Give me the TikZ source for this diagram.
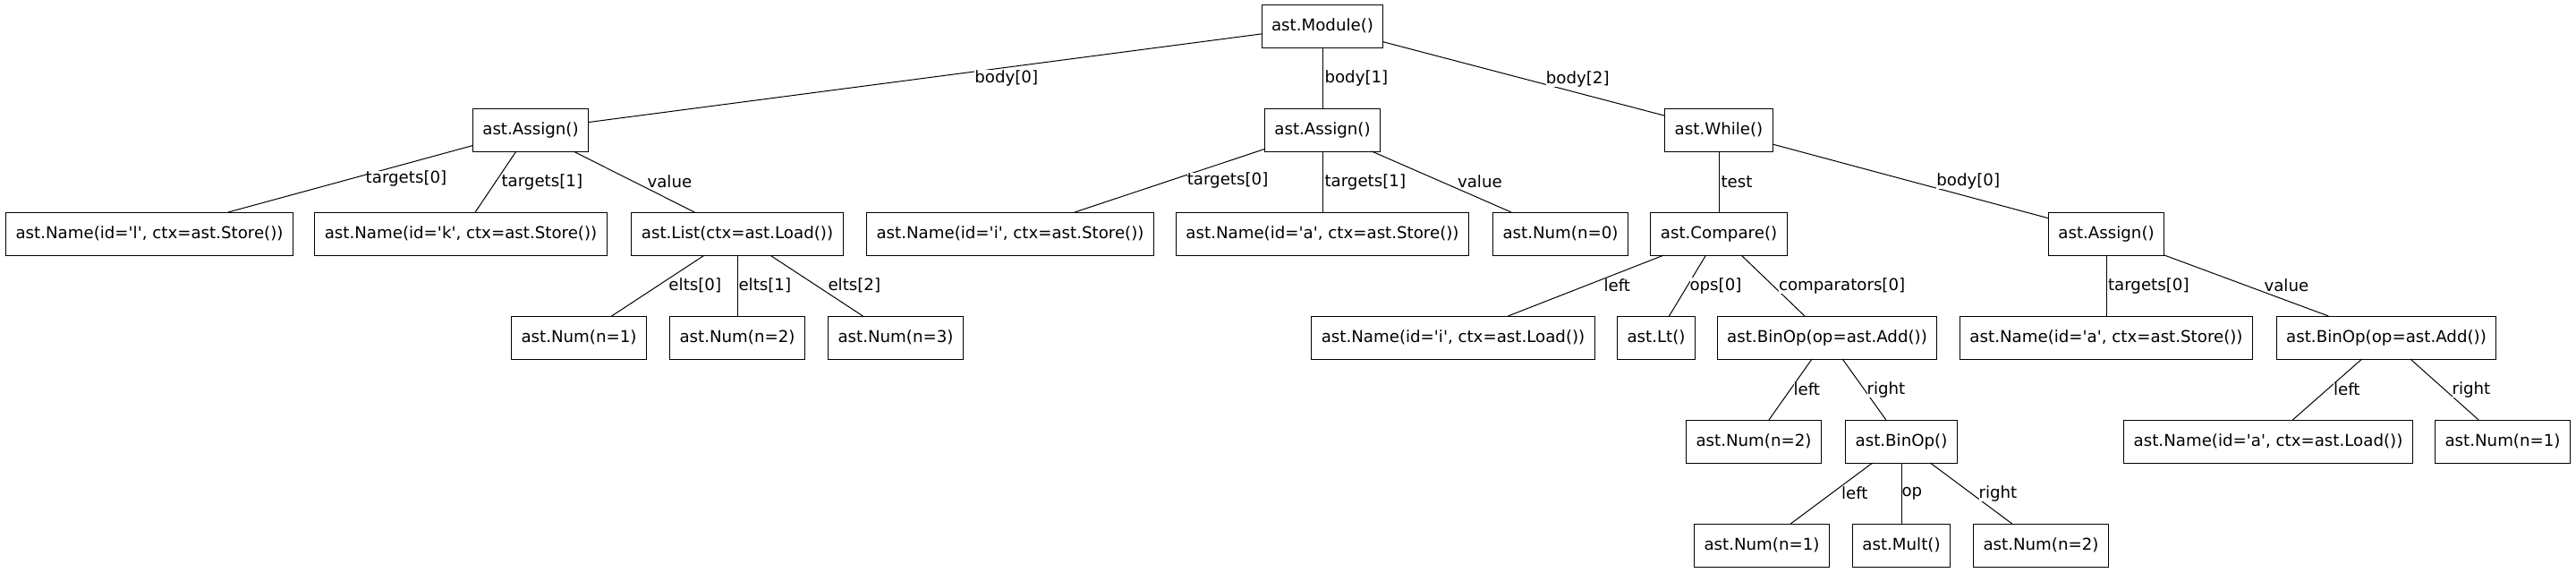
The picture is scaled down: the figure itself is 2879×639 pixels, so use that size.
\documentclass[tikz,border=0pt]{standalone}
\usepackage{fontspec}
\usepackage{tikz}
\usepackage{tkz-graph}
\newfontfamily\astfont{DejaVu Sans}

\begin{document}
\begin{tikzpicture}[x=0.5pt,y=-0.5pt]
    \useasboundingbox (0,0) rectangle (2879,639);
    \GraphInit[vstyle=Normal]
    \tikzset{VertexStyle/.style = {draw, rectangle, line width=0.5pt, minimum height=24pt,
        inner xsep=5.5pt, inner ysep=0pt, font=\astfont\fontsize{9.1}{11}\selectfont}}
    \tikzset{EdgeStyle/.style = {draw, line width=0.5pt}}
    \tikzset{LabelStyle/.style = {anchor=west, inner sep=0pt, font=\astfont\fontsize{9.1}{11}\selectfont}}

    \Vertex[x=1478,y=29,L={ast.Module()}]{M}

    \Vertex[x=593,y=145,L={ast.Assign()}]{A0}
    \Vertex[x=1478,y=145,L={ast.Assign()}]{A1}
    \Vertex[x=1921,y=145,L={ast.While()}]{W}

    \Vertex[x=167,y=261,L={ast.Name(id='l', ctx=ast.Store())}]{NL}
    \Vertex[x=515,y=261,L={ast.Name(id='k', ctx=ast.Store())}]{NK}
    \Vertex[x=824,y=261,L={ast.List(ctx=ast.Load())}]{LS}
    \Vertex[x=1129,y=261,L={ast.Name(id='i', ctx=ast.Store())}]{NI}
    \Vertex[x=1478,y=261,L={ast.Name(id='a', ctx=ast.Store())}]{NA}
    \Vertex[x=1744,y=261,L={ast.Num(n=0)}]{N0}
    \Vertex[x=1921,y=261,L={ast.Compare()}]{CP}
    \Vertex[x=2354,y=261,L={ast.Assign()}]{A2}

    \Vertex[x=647,y=377,L={ast.Num(n=1)}]{E0}
    \Vertex[x=824,y=377,L={ast.Num(n=2)}]{E1}
    \Vertex[x=1001,y=377,L={ast.Num(n=3)}]{E2}
    \Vertex[x=1624,y=377,L={ast.Name(id='i', ctx=ast.Load())}]{NIL}
    \Vertex[x=1851,y=377,L={ast.Lt()}]{LT}
    \Vertex[x=2042,y=377,L={ast.BinOp(op=ast.Add())}]{B1}
    \Vertex[x=2354,y=377,L={ast.Name(id='a', ctx=ast.Store())}]{NAS}
    \Vertex[x=2667,y=377,L={ast.BinOp(op=ast.Add())}]{B2}

    \Vertex[x=1960,y=493,L={ast.Num(n=2)}]{R0}
    \Vertex[x=2125,y=493,L={ast.BinOp()}]{B3}
    \Vertex[x=2535,y=493,L={ast.Name(id='a', ctx=ast.Load())}]{NAL}
    \Vertex[x=2797,y=493,L={ast.Num(n=1)}]{R1}

    \Vertex[x=1969,y=609,L={ast.Num(n=1)}]{S0}
    \Vertex[x=2125,y=609,L={ast.Mult()}]{MU}
    \Vertex[x=2281,y=609,L={ast.Num(n=2)}]{S1}

    \Edge[label={body[0]},labelstyle={xshift=27.5pt}](M)(A0)
    \Edge[label={body[1]},labelstyle={xshift=1pt}](M)(A1)
    \Edge[label={body[2]},labelstyle={xshift=12pt}](M)(W)

    \Edge[label={targets[0]},labelstyle={xshift=8.25pt}](A0)(NL)
    \Edge[label={targets[1]},labelstyle={xshift=3pt}](A0)(NK)
    \Edge[label={value},labelstyle={xshift=7.25pt}](A0)(LS)

    \Edge[label={targets[0]},labelstyle={xshift=9.5pt}](A1)(NI)
    \Edge[label={targets[1]},labelstyle={xshift=1pt}](A1)(NA)
    \Edge[label={value},labelstyle={xshift=8.75pt}](A1)(N0)

    \Edge[label={test},labelstyle={xshift=1pt}](W)(CP)
    \Edge[label={body[0]},labelstyle={xshift=14.25pt}](W)(A2)

    \Edge[label={elts[0]},labelstyle={xshift=5.75pt}](LS)(E0)
    \Edge[label={elts[1]},labelstyle={xshift=0.5pt}](LS)(E1)
    \Edge[label={elts[2]},labelstyle={xshift=6.25pt}](LS)(E2)

    \Edge[label={left},labelstyle={xshift=9.75pt}](CP)(NIL)
    \Edge[label={ops[0]},labelstyle={xshift=1pt}](CP)(LT)
    \Edge[label={comparators[0]},labelstyle={xshift=3pt}](CP)(B1)

    \Edge[label={targets[0]},labelstyle={xshift=0.75pt}](A2)(NAS)
    \Edge[label={value},labelstyle={xshift=9.75pt}](A2)(B2)

    \Edge[label={left},labelstyle={xshift=1.5pt}](B1)(R0)
    \Edge[label={right},labelstyle={xshift=1.25pt}](B1)(B3)
    \Edge[label={left},labelstyle={xshift=3.25pt}](B2)(NAL)
    \Edge[label={right},labelstyle={xshift=4pt}](B2)(R1)

    \Edge[label={left},labelstyle={xshift=5.25pt}](B3)(S0)
    \Edge[label={op},labelstyle={xshift=0pt}](B3)(MU)
    \Edge[label={right},labelstyle={xshift=4pt}](B3)(S1)
\end{tikzpicture}
\end{document}
